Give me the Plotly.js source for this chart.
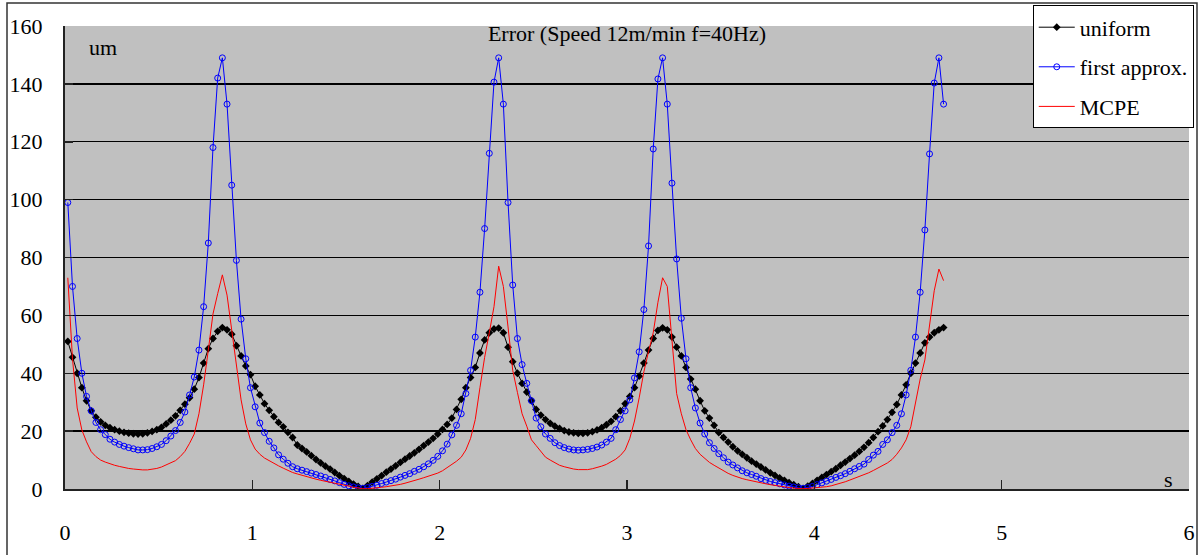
<!DOCTYPE html>
<html><head><meta charset="utf-8">
<script src="https://cdn.plot.ly/plotly-3.0.1.min.js"></script>
<style>html,body{margin:0;padding:0;background:#fff;} #chart{width:1201px;height:555px;}</style>
</head><body><div id="chart"></div>
<script>
// time grid: first sample and spacing (seconds)
const tStart = 0.015;
const tStep = 0.025;

const uniform = [
51, 45.5, 40, 35, 30.5, 27, 24.8, 23.2, 22, 21.2,
20.5, 20, 19.6, 19.3, 19.1, 19, 19.1, 19.4, 19.9, 20.5,
21.3, 22.5, 23.8, 25.3, 27.2, 29.3, 31.5, 34.5, 38.5, 43.5,
48.5, 52, 54.5, 55.8, 55, 53.5, 49.5, 46, 42.5, 39.5,
35.5, 32.5, 29.5, 27.2, 25, 23, 21.5, 19.6, 17.8, 15.2,
14, 12.8, 11.5, 10.2, 9, 7.9, 6.9, 5.7, 4.6, 3.6,
2.6, 1.7, 0.9, 0.2,
1.2, 2.4, 3.5, 4.6, 5.8, 6.9, 8, 9.2, 10.3, 11.4,
12.5, 13.7, 15, 16.2, 17.5, 19, 20.6, 22.3, 24.5, 27.5,
31, 35, 38.5, 42, 47, 51.5, 54, 55.3, 55.6, 54,
49, 44, 40, 36.5, 33.5, 30.5, 27.5, 25.5, 24, 22.7,
21.7, 20.9, 20.2, 19.7, 19.4, 19.2, 19.2, 19.4, 19.8, 20.4,
21.2, 22.2, 23.4, 25, 27, 29.5, 32, 35, 39, 43.5,
48, 52, 54.8, 55.7, 55, 52.5, 49, 46, 42, 38,
34.5, 30.5, 27, 24.5, 22, 19.5, 17.8, 16.2, 14.6, 13.2,
12, 10.8, 9.6, 8.6, 7.6, 6.6, 5.6, 4.7, 3.8, 3,
2.2, 1.5, 0.8, 0.2,
1, 1.9, 3, 4, 5, 6, 7, 8.2, 9.3, 10.5,
11.7, 13, 14.4, 16, 17.8, 19.8, 21.8, 24, 26.5, 29.2,
32.5, 36, 40, 43.5, 47, 50.5, 52.5, 54, 55, 55.8
];

const firstApprox = [
99, 70, 52, 40, 32, 27, 23, 20.5, 18.8, 17.2,
16.2, 15.4, 14.8, 14.3, 13.9, 13.5, 13.5, 13.6, 14, 14.6,
15.4, 16.7, 18.3, 20.2, 23, 26.6, 32.5, 38.7, 48, 63,
85, 118, 142, 149, 133, 105, 79, 58.7, 45, 35,
28.4, 22.8, 19.5, 16.5, 14.2, 11.8, 10.3, 8.9, 7.7, 7,
6.5, 6, 5.5, 5, 4.5, 4, 3.3, 2.8, 2.2, 1.6,
1.1, 0.7, 0.4, 0.2,
0.5, 0.9, 1.3, 1.9, 2.4, 2.9, 3.4, 4.1, 4.7, 5.3,
6.1, 6.8, 7.7, 8.7, 9.9, 11.3, 13.2, 15.5, 18.7, 22,
26, 33, 41, 52.5, 68, 90, 116, 140.6, 149, 133,
99, 70.5, 52, 43, 36.5, 30.5, 24.5, 21.5, 19, 17.5,
16, 15, 14.3, 13.8, 13.5, 13.4, 13.5, 13.7, 14, 14.5,
15.2, 16.2, 17.5, 20.5, 24, 27, 30.8, 38.4, 47.4, 62,
84, 117.5, 141.7, 149, 133, 105.7, 79.5, 59, 45, 35,
28, 22.8, 19, 16, 14, 12.2, 10.8, 9.3, 8.3, 7.3,
6.3, 5.6, 5, 4.4, 3.6, 3, 2.6, 2.2, 1.8, 1.4,
1, 0.7, 0.4, 0.2,
0.5, 0.9, 1.5, 2.1, 2.7, 3.3, 4, 4.6, 5.3, 6.1,
7, 7.8, 8.6, 10.2, 11.7, 13, 15.4, 17, 19.5, 22,
26, 32.5, 41, 52.5, 68, 89.5, 115.8, 140.3, 149, 133
];

const mcpe = [
73, 45, 28, 20.4, 16.3, 12.9, 11.2, 10, 9.3, 8.7,
8.2, 7.8, 7.4, 7.1, 6.9, 6.7, 6.6, 6.6, 6.8, 7.1,
7.6, 8.3, 9, 9.8, 11.2, 13, 15.8, 19, 26, 36,
48, 60.5, 67.5, 74, 67, 55.5, 43.5, 30.8, 22.5, 17,
13.8, 12, 10.7, 9.7, 8.8, 8, 7.2, 6.4, 5.7, 5.2,
4.7, 4.3, 3.8, 3.4, 3, 2.7, 2.3, 2, 1.6, 1.3,
1, 0.6, 0.3, 0.1,
0.1, 0.2, 0.4, 0.6, 0.8, 1, 1.3, 1.6, 2, 2.4,
2.9, 3.4, 3.9, 4.4, 4.9, 5.5, 6.3, 7.3, 8.4, 9.6,
11, 13.5, 17.5, 24, 35, 45.5, 54, 63, 77, 70,
56, 41, 33.4, 26, 21.7, 17, 15, 12.8, 11, 10,
9, 8.2, 7.7, 7.2, 6.9, 6.7, 6.6, 6.7, 7, 7.4,
7.9, 8.5, 9.3, 10.3, 11.6, 13.5, 17.5, 23.5, 31.5, 40.5,
47.5, 54, 64.5, 73, 70, 52, 33, 26, 20.5, 17,
14, 12, 10.5, 9.2, 8.2, 7.2, 6.3, 5.4, 4.7, 4.1,
3.6, 3.2, 2.8, 2.4, 2.1, 1.8, 1.5, 1.2, 0.9, 0.7,
0.5, 0.3, 0.1, 0.1,
0.2, 0.3, 0.5, 0.6, 0.8, 1.1, 1.5, 2, 2.5, 3.1,
3.7, 4.3, 5, 5.6, 6.4, 7.2, 8.1, 9, 10.2, 12,
14.2, 17, 21.5, 30, 38, 44.6, 56, 68.5, 76, 72
];

const seriesNames = ['uniform', 'first approx.', 'MCPE'];
const xTicks = [0, 1, 2, 3, 4, 5, 6];
const yTicks = [0, 20, 40, 60, 80, 100, 120, 140, 160];
const gridLevels = [20, 40, 60, 80, 100, 120, 140];

const FONT = 'Liberation Serif, Times New Roman, serif';

const traces = [
  {type: 'scatter', mode: 'lines+markers', name: seriesNames[0], x0: tStart, dx: tStep, y: uniform,
   line: {color: '#000000', width: 1}, marker: {symbol: 'diamond', size: 6, color: '#000000'},
   legendgroup: 'a'},
  {type: 'scatter', mode: 'lines+markers', name: seriesNames[1], x0: tStart, dx: tStep, y: firstApprox,
   line: {color: '#0000ff', width: 1}, marker: {symbol: 'circle-open', size: 6, color: '#0000ff', line: {width: 1, color: '#0000ff'}},
   legendgroup: 'b'},
  {type: 'scatter', mode: 'lines', name: seriesNames[2], x0: tStart, dx: tStep, y: mcpe,
   line: {color: '#ff0000', width: 1}, legendgroup: 'c'},
  {type: 'scatter', mode: 'lines', x: [], y: [], yaxis: 'y2', showlegend: false, hoverinfo: 'skip'}
];

const layout = {
  width: 1201, height: 555,
  margin: {l: 65, r: 12, t: 26, b: 66, pad: 0, autoexpand: false},
  paper_bgcolor: '#ffffff',
  plot_bgcolor: '#c0c0c0',
  font: {family: FONT, size: 22, color: '#000'},
  title: {text: 'Error (Speed 12m/min f=40Hz)', font: {family: FONT, size: 22, color: '#000'},
          x: 0.5, xref: 'paper', y: 1 - 33/555, yref: 'container', yanchor: 'middle', xanchor: 'center'},
  showlegend: true,
  legend: {x: 0.861, y: 1.0445, xanchor: 'left', yanchor: 'top', bgcolor: '#ffffff',
           bordercolor: '#000000', borderwidth: 1, font: {family: FONT, size: 22, color: '#000'},
           traceorder: 'grouped', tracegroupgap: 8, itemwidth: 36},
  xaxis: {range: [0, 6], tickvals: xTicks, ticktext: xTicks.map(String), ticks: 'inside', ticklen: 9,
          tickwidth: 1.5, tickcolor: '#222', showgrid: false, zeroline: false, showline: true,
          linecolor: '#222', linewidth: 2, ticklabelstandoff: 23,
          tickfont: {family: FONT, size: 22, color: '#000'}, fixedrange: true, automargin: false},
  yaxis: {range: [0, 160], tickvals: yTicks, ticktext: yTicks.map(String), ticks: 'inside', ticklen: 8,
          tickwidth: 1.5, tickcolor: '#222', showgrid: false, zeroline: false, showline: true,
          linecolor: '#222', linewidth: 2, ticklabelstandoff: 16,
          tickfont: {family: FONT, size: 22, color: '#000'}, fixedrange: true, automargin: false},
  yaxis2: {overlaying: 'y', side: 'left', range: [0, 160], tickvals: gridLevels, showticklabels: false,
           ticks: '', showgrid: true, gridcolor: '#000000', gridwidth: 1.3, zeroline: false, showline: false,
           fixedrange: true},
  annotations: [
    {text: 'um', xref: 'paper', yref: 'paper', x: (103 - 65) / 1124, y: (489 - 48) / 463,
     showarrow: false, xanchor: 'center', yanchor: 'middle', font: {family: FONT, size: 22, color: '#000'}},
    {text: 's', xref: 'paper', yref: 'paper', x: (1168 - 65) / 1124, y: (489 - 479) / 463,
     showarrow: false, xanchor: 'center', yanchor: 'middle', font: {family: FONT, size: 22, color: '#000'}}
  ],
  shapes: [
    {type: 'rect', xref: 'paper', yref: 'paper', x0: (7 - 65) / 1124, x1: (1197 - 65) / 1124,
     y0: (489 - 570) / 463, y1: (489 - 3) / 463, line: {color: '#333', width: 1.5}, fillcolor: 'rgba(0,0,0,0)', layer: 'below'}
  ]
};

Plotly.newPlot('chart', traces, layout, {displayModeBar: false, staticPlot: true});
</script>
</body></html>
